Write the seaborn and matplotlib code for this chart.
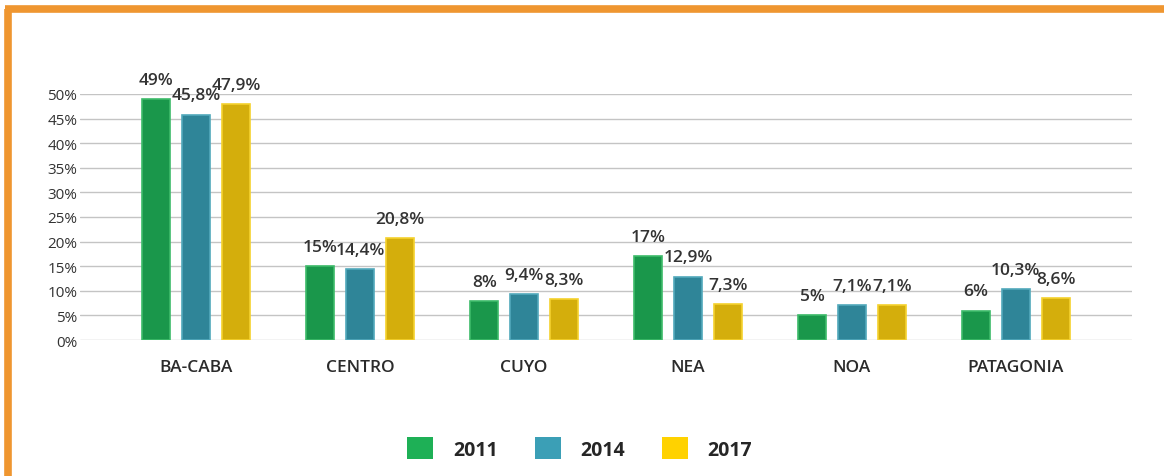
import pandas as pd
import matplotlib.pyplot as plt
import seaborn as sns
from matplotlib.patches import Patch
from matplotlib.lines import Line2D

# Data
regions = ['BA-CABA', 'CENTRO', 'CUYO', 'NEA', 'NOA', 'PATAGONIA']
years = ['2011', '2014', '2017']
v2011 = [49, 15, 8, 17, 5, 6]
v2014 = [45.8, 14.4, 9.4, 12.9, 7.1, 10.3]
v2017 = [47.9, 20.8, 8.3, 7.3, 7.1, 8.6]

bar_colors = ['#1a974b', '#2f8598', '#d4ae0c']
edge_colors = ['#3dbb6a', '#52a9bb', '#f5d22e']
legend_colors = ['#1eb056', '#3b9fb6', '#ffd200']

df = pd.DataFrame({
    'region': regions * 3,
    'year': [y for y in years for _ in regions],
    'value': v2011 + v2014 + v2017,
})

sns.set_style('white')
plt.rcParams['font.family'] = ['Open Sans', 'DejaVu Sans']

fig = plt.figure(figsize=(11.64, 4.77), dpi=100)
ax = fig.add_axes([0.0687, 0.285, 0.904, 0.516])

sns.barplot(data=df, x='region', y='value', hue='year', order=regions,
            hue_order=years, palette=bar_colors, width=0.73, gap=0.3,
            saturation=1, ax=ax, legend=False, zorder=3)

for i, cont in enumerate(ax.containers):
    for bar in cont:
        bar.set_edgecolor(edge_colors[i])
        bar.set_linewidth(1.2)
    vals = [v2011, v2014, v2017][i]
    labels = [f'{v:g}%'.replace('.', ',') for v in vals]
    ax.bar_label(cont, labels=labels, padding=8, fontsize=12.5,
                 fontweight='semibold', color='#333333', clip_on=False)

ax.set_xlim(-0.71, 5.71)
ax.set_ylim(0, 50)
ax.set_yticks(range(0, 51, 5))
ax.set_yticklabels([f'{t}%' for t in range(0, 51, 5)], fontsize=11, color='#333333')
ax.yaxis.grid(True, color='#c4c4c4', linewidth=1, zorder=0)
ax.set_axisbelow(True)
ax.tick_params(axis='both', length=0, pad=2)
ax.tick_params(axis='x', pad=14)
for lab in ax.get_xticklabels():
    lab.set_fontsize(12.5)
    lab.set_fontweight('semibold')
    lab.set_color('#2b2b2b')
ax.set_xlabel('')
ax.set_ylabel('')
sns.despine(ax=ax, left=True, bottom=True)

handles = [Patch(facecolor=c, edgecolor='none') for c in legend_colors]
fig.legend(handles, years, loc='center', bbox_to_anchor=(0.498, 0.058), ncol=3,
           frameon=False, handlelength=1.35, handleheight=1.35, columnspacing=1.9,
           handletextpad=1.0, prop={'size': 14, 'weight': 'bold'})

# orange frame on the left and top
fig.add_artist(Line2D([8 / 1164, 8 / 1164], [0, 1 - 10 / 477], color='#ef9630',
                      linewidth=5.5, solid_capstyle='butt'))
fig.add_artist(Line2D([5 / 1164, 1], [1 - 10 / 477, 1 - 10 / 477], color='#ef9630',
                      linewidth=5.5, solid_capstyle='butt'))

fig.savefig('out.png', dpi=100)
